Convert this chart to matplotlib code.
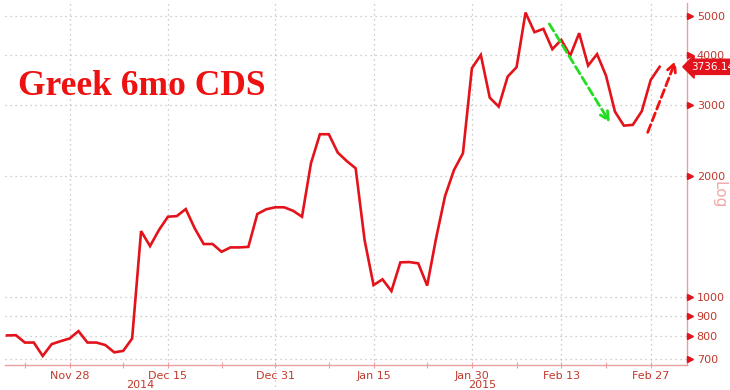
import numpy as np
import pandas as pd
import matplotlib
matplotlib.use("Agg")
import matplotlib.pyplot as plt
from matplotlib.transforms import blended_transform_factory

# ---- data ----
start_date = "2014-11-19"
cds_values = [803, 804, 771, 771, 714, 764, 777, 789, 823, 771,
              771, 760, 729, 735, 789, 1459, 1339, 1468, 1584, 1590,
              1655, 1482, 1355, 1355, 1296, 1329, 1329, 1333, 1609, 1653,
              1672, 1672, 1639, 1584, 2150, 2540, 2540, 2286, 2179, 2090,
              1386, 1071, 1107, 1035, 1220, 1222, 1213, 1068, 1402, 1783,
              2070, 2278, 3706, 3999, 3131, 2975, 3532, 3728, 5096, 4555,
              4642, 4133, 4358, 3983, 4529, 3762, 4017, 3552, 2891, 2668,
              2680, 2897, 3465, 3736.145]
major_tick_dates = ["2014-11-28", "2014-12-15", "2014-12-31", "2015-01-15",
                    "2015-01-30", "2015-02-13", "2015-02-27"]
major_tick_labels = ["Nov 28", "Dec 15", "Dec 31", "Jan 15", "Jan 30", "Feb 13", "Feb 27"]
minor_tick_dates = ["2014-11-21", "2014-12-08", "2014-12-23", "2015-01-08",
                    "2015-01-23", "2015-02-06", "2015-02-20"]
year_labels = ["2014", "2015"]
year_label_pos = [14.9, 53.2]          # business-day index
y_ticks = [700, 800, 900, 1000, 2000, 3000, 4000, 5000]
title_text = "Greek 6mo CDS"
last_label = "3736.145"
green_arrow_x = [60.5, 67.6]
green_arrow_y = [4840, 2679]
red_arrow_x = [71.55, 74.9]
red_arrow_y = [2529, 3925]

dates = pd.bdate_range(start_date, periods=len(cds_values))
xpos = np.arange(len(dates))


def date_pos(d):
    return float(np.searchsorted(dates, pd.Timestamp(d)))


tick_color = "#c0392b"
spine_color = "#e8a0a0"
line_color = "#e3131b"

fig = plt.figure(figsize=(7.3, 3.9), dpi=100)
ax = fig.add_axes([5 / 730, 25 / 390, 682 / 730, 362 / 390])

ax.plot(xpos, cds_values, color=line_color, lw=1.9, solid_joinstyle="miter", zorder=3)
ax.set_yscale("log")
ax.set_xlim(-0.22, 76.06)
ax.set_ylim(678, 5383)

# ticks
ax.yaxis.tick_right()
ax.set_yticks(y_ticks)
ax.set_yticklabels([str(v) for v in y_ticks])
ax.yaxis.set_minor_locator(matplotlib.ticker.NullLocator())
ax.tick_params(axis="y", which="both", length=0, pad=7, labelsize=8, labelcolor=tick_color)

maj = [date_pos(d) for d in major_tick_dates]
mnr = [date_pos(d) for d in minor_tick_dates]
ax.set_xticks(maj)
ax.set_xticklabels(major_tick_labels)
ax.set_xticks(mnr, minor=True)
ax.tick_params(axis="x", which="both", direction="inout", length=5, width=0.8,
               color=spine_color, labelsize=8, labelcolor=tick_color, pad=1.5)

# grid
ax.grid(True, which="major", axis="both", color="#bdbdbd", linestyle=(0, (1, 3)), lw=0.9)

for s in ["left", "top"]:
    ax.spines[s].set_visible(False)
for s in ["bottom", "right"]:
    ax.spines[s].set_color(spine_color)
    ax.spines[s].set_linewidth(1.0)

# triangular tick markers on the right spine
tr = blended_transform_factory(ax.transAxes, ax.transData)
ax.plot([1.004] * len(y_ticks), y_ticks, linestyle="none", marker=">", ms=4,
        color=line_color, transform=tr, clip_on=False, zorder=5)

# year labels
trx = blended_transform_factory(ax.transData, ax.transAxes)
for lab, xp in zip(year_labels, year_label_pos):
    ax.text(xp, -0.055, lab, transform=trx, ha="center", va="center",
            fontsize=8, color=tick_color)
# year separator line
ax.plot([date_pos("2014-12-31")] * 2, [0, -0.09], transform=trx, clip_on=False,
        color="#bdbdbd", lw=0.9, linestyle=(0, (1, 3)))

# title
fig.text(18 / 730, 1 - 95 / 390, title_text, fontsize=25.5, fontweight="bold",
         family="Liberation Serif", color="#ee1111", ha="left", va="baseline")

# "Log" label
fig.text(719 / 730, 1 - 195 / 390, "Log", rotation=-90, fontsize=11,
         color="#f2a8a8", ha="center", va="center")

# last value label
ax.text(1.006, cds_values[-1], last_label, transform=tr, ha="left", va="center",
        fontsize=7.5, color="white", clip_on=False,
        bbox=dict(boxstyle="larrow,pad=0.25", fc=line_color, ec=line_color))

# annotation arrows
ax.annotate("", xy=(green_arrow_x[1], green_arrow_y[1]),
            xytext=(green_arrow_x[0], green_arrow_y[0]),
            arrowprops=dict(arrowstyle="->,head_length=0.6,head_width=0.3",
                            color="#22dd22", lw=2, linestyle=(0, (3, 1.5))))
ax.annotate("", xy=(red_arrow_x[1], red_arrow_y[1]),
            xytext=(red_arrow_x[0], red_arrow_y[0]),
            arrowprops=dict(arrowstyle="->,head_length=0.6,head_width=0.3",
                            color="#ee1111", lw=2, linestyle=(0, (3, 1.5))))

fig.savefig("out.png", dpi=100, facecolor="white")
